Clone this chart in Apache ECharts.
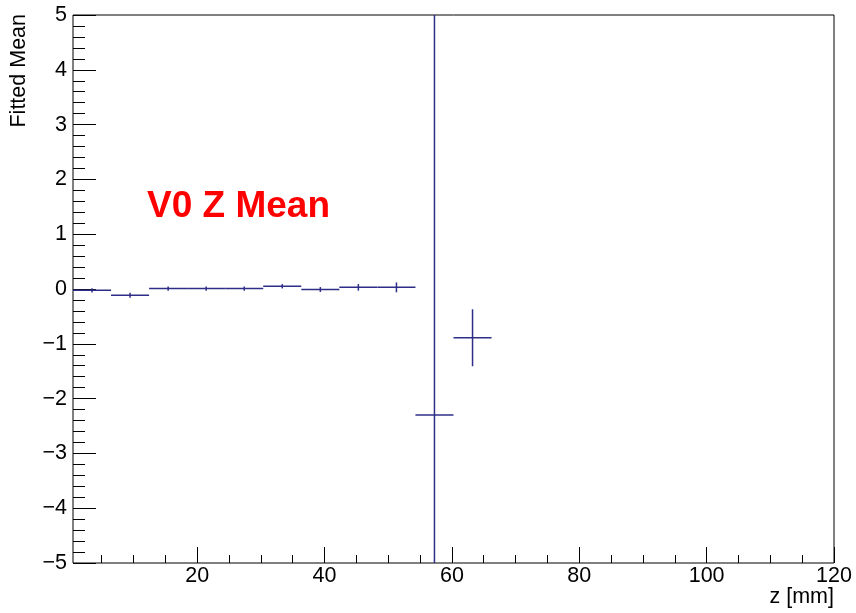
<!DOCTYPE html>
<html>
<head>
<meta charset="utf-8">
<title>V0 Z Mean</title>
<script src="https://cdn.jsdelivr.net/npm/echarts@6/dist/echarts.min.js"></script>
<style>
html, body { margin: 0; padding: 0; background: #fff; }
#chart { width: 856px; height: 613px; }
</style>
</head>
<body>
<div id="chart"></div>
<script>
// bin centres (mm), fitted mean and its error per bin
const binCenters = [3.49, 9.46, 15.44, 21.41, 27.39, 33.36, 39.34, 45.31, 51.29, 57.26, 63.24]
const means = [-0.025, -0.115, 0.007, 0.007, 0.007, 0.05, -0.01, 0.03, 0.03, -2.3, -0.89]
const errors = [0.04, 0.045, 0.04, 0.04, 0.04, 0.04, 0.045, 0.06, 0.09, 12, 0.52]
const binWidth = 5.975

const xTicks = [20, 40, 60, 80, 100, 120]
const xMinorTicks = [5, 10, 15, 25, 30, 35, 45, 50, 55, 65, 70, 75, 85, 90, 95, 105, 110, 115]

const font = 'Liberation Sans, Arial, Helvetica, sans-serif'
const lineColor = '#2e2e88'

const points = binCenters.map((x, i) => [x, means[i], errors[i]])

const chart = echarts.init(document.getElementById('chart'))

chart.setOption({
  animation: false,
  grid: {
    left: 73,
    right: 22,
    top: 15,
    bottom: 50,
    show: true,
    borderColor: '#000',
    borderWidth: 1,
    backgroundColor: '#fff'
  },
  xAxis: [
    {
      type: 'value',
      min: 0.5,
      max: 120,
      position: 'bottom',
      axisLine: { show: false, onZero: false },
      splitLine: { show: false },
      axisTick: {
        inside: true,
        length: 16,
        customValues: xTicks,
        lineStyle: { color: '#000' }
      },
      axisLabel: {
        customValues: xTicks,
        margin: 2,
        color: '#000',
        fontFamily: font,
        fontSize: 21.5
      }
    },
    {
      // minor ticks only
      type: 'value',
      min: 0.5,
      max: 120,
      position: 'bottom',
      axisLine: { show: false, onZero: false },
      splitLine: { show: false },
      axisLabel: { show: false },
      axisTick: {
        inside: true,
        length: 8,
        customValues: xMinorTicks,
        lineStyle: { color: '#000' }
      }
    }
  ],
  yAxis: {
    type: 'value',
    min: -5,
    max: 5,
    interval: 1,
    axisLine: { show: false, onZero: false },
    splitLine: { show: false },
    axisTick: { inside: true, length: 23, lineStyle: { color: '#000' } },
    minorTick: { show: true, splitNumber: 5, length: 12, lineStyle: { color: '#000' } },
    axisLabel: {
      margin: 6,
      color: '#000',
      fontFamily: font,
      fontSize: 21.5,
      formatter: v => (v < 0 ? '\u2212' + (-v) : String(v))
    }
  },
  series: [
    {
      type: 'custom',
      clip: true,
      data: points,
      renderItem(params, api) {
        const x = api.value(0)
        const y = api.value(1)
        const e = api.value(2)
        const l = api.coord([x - binWidth / 2, y])
        const r = api.coord([x + binWidth / 2, y])
        const t = api.coord([x, y + e])
        const b = api.coord([x, y - e])
        const style = { stroke: lineColor, lineWidth: 1.5 }
        return {
          type: 'group',
          children: [
            { type: 'line', shape: { x1: l[0], y1: l[1], x2: r[0], y2: r[1] }, style },
            { type: 'line', shape: { x1: t[0], y1: t[1], x2: b[0], y2: b[1] }, style }
          ]
        }
      }
    }
  ],
  graphic: [
    {
      type: 'text',
      x: 19,
      y: 14,
      rotation: Math.PI / 2,
      style: {
        text: 'Fitted Mean',
        font: '21.5px ' + font,
        fill: '#000',
        align: 'right',
        verticalAlign: 'middle'
      }
    },
    {
      type: 'text',
      x: 834,
      y: 597,
      style: {
        text: 'z [mm]',
        font: '21.5px ' + font,
        fill: '#000',
        align: 'right',
        verticalAlign: 'middle'
      }
    },
    {
      type: 'text',
      x: 147,
      y: 207,
      style: {
        text: 'V0 Z Mean',
        font: 'bold 37px ' + font,
        fill: '#ff0000',
        align: 'left',
        verticalAlign: 'middle'
      }
    }
  ]
})
</script>
</body>
</html>
